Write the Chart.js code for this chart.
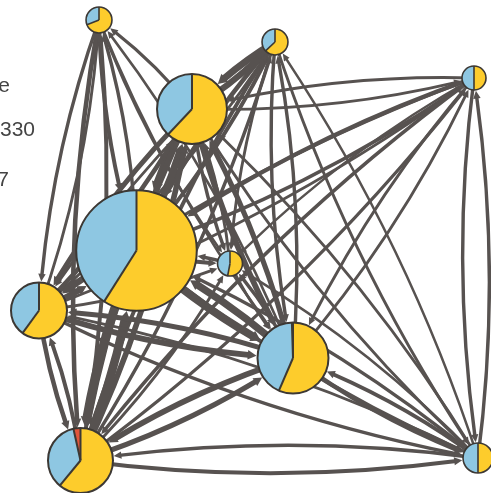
<!DOCTYPE html>
<html>
<head>
<meta charset="utf-8">
<script src="https://cdn.jsdelivr.net/npm/chart.js@4/dist/chart.umd.min.js"></script>
<style>
  html, body { margin: 0; padding: 0; background: #fff; overflow: hidden; }
  #wrap { position: relative; width: 491px; height: 493px; }
</style>
</head>
<body>
<div id="wrap"><canvas id="net" width="491" height="493"></canvas></div>
<script>
// node layout (x, y in layout units) and size
const nodeX = [99, 275, 474, 192, 136.5, 230, 39, 293, 80.5, 478];
const nodeY = [20, 42, 78, 109, 250.5, 263.5, 310.5, 358, 460.5, 458];
const nodeCount = [42, 42, 36, 306, 908, 39, 196, 315, 264, 56];

// composition of each node (yellow / blue / red)
const shareYellow = [0.69, 0.63, 0.50, 0.62, 0.59, 0.53, 0.60, 0.565, 0.61, 0.50];
const shareBlue   = [0.31, 0.37, 0.50, 0.38, 0.41, 0.47, 0.40, 0.43, 0.355, 0.50];
const shareRed    = [0, 0, 0, 0, 0, 0, 0, 0.005, 0.035, 0];

// directed flows: [from, to, flow]
const edges = [
  [3, 0, 18], [0, 4, 25], [4, 0, 20], [0, 6, 20], [6, 0, 15],
  [0, 8, 30], [8, 0, 25], [0, 7, 14], [7, 0, 12], [0, 5, 12],
  [1, 3, 50], [3, 1, 45], [1, 4, 30], [4, 1, 25], [1, 8, 25], [8, 1, 20],
  [1, 7, 20], [7, 1, 20], [1, 6, 15], [6, 1, 15], [1, 5, 15], [1, 9, 15], [9, 1, 12],
  [2, 3, 15], [3, 2, 14], [2, 4, 25], [4, 2, 20], [2, 6, 20], [6, 2, 15],
  [2, 8, 20], [8, 2, 18], [2, 7, 15], [7, 2, 15], [2, 9, 20], [9, 2, 20], [2, 5, 12],
  [3, 4, 60], [4, 3, 55], [3, 8, 45], [8, 3, 40], [3, 7, 40], [7, 3, 35],
  [3, 6, 35], [6, 3, 30], [3, 5, 20], [5, 3, 15], [3, 9, 15], [9, 3, 15],
  [4, 8, 70], [8, 4, 65], [4, 7, 60], [7, 4, 55], [4, 6, 50], [6, 4, 45],
  [4, 5, 25], [5, 4, 20], [4, 9, 25], [9, 4, 20],
  [6, 7, 40], [7, 6, 35], [6, 8, 30], [8, 6, 25], [6, 9, 20], [9, 6, 15], [6, 5, 15],
  [7, 8, 40], [8, 7, 35], [7, 9, 30], [9, 7, 25], [7, 5, 20], [5, 7, 15],
  [8, 9, 25], [9, 8, 20], [8, 5, 15], [9, 5, 12]
];

const YELLOW = "#fdcc2c";
const BLUE = "#8ec7e2";
const RED = "#e0553b";
const OUTLINE = "#3c3834";
const EDGE = "#575250";
const CURVE = 0.07;

const radiusOf = i => 2 * Math.sqrt(nodeCount[i]);

function bez(p0, c, p1, t) {
  const u = 1 - t;
  return {
    x: u * u * p0.x + 2 * u * t * c.x + t * t * p1.x,
    y: u * u * p0.y + 2 * u * t * c.y + t * t * p1.y
  };
}

function findT(p0, c, p1, ref, dist, lo, hi) {
  // last t (from lo side) where point is still farther than dist from ref
  for (let i = 0; i < 30; i++) {
    const mid = (lo + hi) / 2;
    const p = bez(p0, c, p1, mid);
    if (Math.hypot(p.x - ref.x, p.y - ref.y) > dist) lo = mid; else hi = mid;
  }
  return lo;
}

const networkPlugin = {
  id: "network",
  beforeDatasetsDraw(chart) {
    const ctx = chart.ctx;
    const pts = chart.getDatasetMeta(0).data;
    const xs = chart.scales.x;
    const unit = Math.abs(xs.getPixelForValue(1) - xs.getPixelForValue(0));

    ctx.save();
    ctx.strokeStyle = EDGE;
    ctx.fillStyle = EDGE;
    ctx.lineCap = "butt";

    edges.forEach(([s, t, flow]) => {
      const a = { x: pts[s].x, y: pts[s].y };
      const b = { x: pts[t].x, y: pts[t].y };
      const dx = b.x - a.x, dy = b.y - a.y;
      const len = Math.hypot(dx, dy);
      const nx = -dy / len, ny = dx / len;
      const k = len * CURVE;
      const c = { x: (a.x + b.x) / 2 + nx * k, y: (a.y + b.y) / 2 + ny * k };

      const lw = 1.2 + flow / 9;
      const rT = radiusOf(t) * unit + 1;
      const tEnd = findT(a, c, b, b, rT, 0, 1);
      const tip = bez(a, c, b, tEnd);
      const ah = 6 + lw * 0.5;
      const tBase = findT(a, c, b, tip, ah * 0.7, 0, tEnd);

      // shortened curve via de Casteljau split
      const c2 = { x: a.x + (c.x - a.x) * tBase, y: a.y + (c.y - a.y) * tBase };
      const e2 = bez(a, c, b, tBase);
      ctx.lineWidth = lw;
      ctx.beginPath();
      ctx.moveTo(a.x, a.y);
      ctx.quadraticCurveTo(c2.x, c2.y, e2.x, e2.y);
      ctx.stroke();

      // arrow head
      let ux = tip.x - e2.x, uy = tip.y - e2.y;
      const ul = Math.hypot(ux, uy) || 1;
      ux /= ul; uy /= ul;
      const bx = tip.x - ux * ah, by = tip.y - uy * ah;
      const hw = ah * 0.35 + lw * 0.3;
      ctx.beginPath();
      ctx.moveTo(tip.x, tip.y);
      ctx.lineTo(bx - uy * hw, by + ux * hw);
      ctx.lineTo(bx + uy * hw, by - ux * hw);
      ctx.closePath();
      ctx.fill();
    });
    ctx.restore();
  },
  afterDatasetsDraw(chart) {
    const ctx = chart.ctx;
    const pts = chart.getDatasetMeta(0).data;
    const xs = chart.scales.x;
    const unit = Math.abs(xs.getPixelForValue(1) - xs.getPixelForValue(0));

    ctx.save();
    pts.forEach((p, i) => {
      const r = radiusOf(i) * unit;
      const parts = [
        [shareYellow[i], YELLOW],
        [shareBlue[i], BLUE],
        [shareRed[i], RED]
      ];
      let ang = -Math.PI / 2;
      const bounds = [];
      parts.forEach(([f, col]) => {
        if (f <= 0) return;
        const end = ang + f * Math.PI * 2;
        ctx.beginPath();
        ctx.moveTo(p.x, p.y);
        ctx.arc(p.x, p.y, r, ang, end);
        ctx.closePath();
        ctx.fillStyle = col;
        ctx.fill();
        bounds.push(ang);
        ang = end;
      });
      ctx.strokeStyle = OUTLINE;
      ctx.lineWidth = r > 20 ? 2 : 1.6;
      bounds.forEach(b => {
        ctx.beginPath();
        ctx.moveTo(p.x, p.y);
        ctx.lineTo(p.x + Math.cos(b) * r, p.y + Math.sin(b) * r);
        ctx.stroke();
      });
      ctx.beginPath();
      ctx.arc(p.x, p.y, r, 0, Math.PI * 2);
      ctx.stroke();
    });
    ctx.restore();
  },
  afterDraw(chart) {
    // legend text, cut by the left edge
    const ctx = chart.ctx;
    ctx.save();
    ctx.font = '21px "Liberation Sans", Arial, sans-serif';
    ctx.fillStyle = "#444444";
    ctx.textAlign = "right";
    ctx.textBaseline = "alphabetic";
    ctx.fillText("e", 10, 92);
    ctx.fillText("330", 35, 136);
    ctx.fillText("7", 9, 186);
    ctx.restore();
  }
};

new Chart(document.getElementById("net"), {
  type: "scatter",
  data: {
    datasets: [{
      data: nodeX.map((x, i) => ({ x, y: nodeY[i] })),
      pointRadius: 0,
      pointHoverRadius: 0
    }]
  },
  options: {
    responsive: false,
    animation: false,
    events: [],
    layout: { padding: 0 },
    plugins: { legend: { display: false }, tooltip: { enabled: false } },
    scales: {
      x: { type: "linear", min: 0, max: 491, display: false },
      y: { type: "linear", min: 0, max: 493, reverse: true, display: false }
    }
  },
  plugins: [networkPlugin]
});
</script>
</body>
</html>
